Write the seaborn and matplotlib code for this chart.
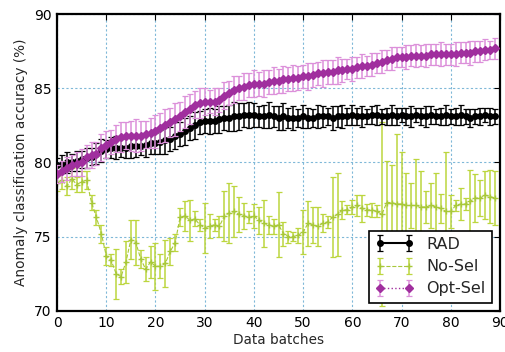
import numpy as np
import pandas as pd
import matplotlib
matplotlib.use("Agg")
import matplotlib.pyplot as plt
import seaborn as sns

batches = list(range(90))

rad_mean = [79.8, 79.9, 80.0, 80.0, 80.1, 80.2, 80.3, 80.4, 80.6, 80.8,
            80.9, 81.0, 81.0, 81.0, 81.0, 81.1, 81.1, 81.1, 81.2, 81.3,
            81.3, 81.4, 81.5, 81.6, 81.8, 81.9, 82.1, 82.3, 82.5, 82.7,
            82.8, 82.8, 82.8, 82.9, 83.0, 83.0, 83.1, 83.1, 83.2, 83.2,
            83.2, 83.1, 83.1, 83.2, 83.1, 83.0, 83.1, 83.0, 83.0, 83.0,
            83.1, 83.0, 83.0, 83.1, 83.1, 83.1, 83.0, 83.1, 83.1, 83.1,
            83.2, 83.1, 83.1, 83.1, 83.2, 83.2, 83.1, 83.1, 83.2, 83.1,
            83.2, 83.1, 83.1, 83.2, 83.1, 83.1, 83.2, 83.1, 83.1, 83.2,
            83.1, 83.1, 83.2, 83.1, 83.0, 83.1, 83.1, 83.2, 83.1, 83.1]
rad_err = [0.5, 0.6, 0.7, 0.6, 0.7, 0.6, 0.7, 0.6, 0.7, 0.8,
           0.6, 0.7, 0.8, 0.6, 0.7, 0.8, 0.7, 0.6, 0.8, 0.7,
           0.7, 0.8, 0.9, 0.8, 0.9, 0.8, 0.9, 0.8, 0.9, 0.8,
           0.8, 0.9, 0.8, 0.9, 0.8, 0.9, 1.0, 0.9, 0.8, 0.9,
           0.8, 0.7, 0.8, 0.9, 0.7, 0.8, 0.9, 0.7, 0.8, 0.6,
           0.8, 0.7, 0.6, 0.8, 0.7, 0.6, 0.8, 0.7, 0.8, 0.6,
           0.7, 0.6, 0.7, 0.5, 0.6, 0.7, 0.5, 0.6, 0.7, 0.6,
           0.5, 0.6, 0.7, 0.5, 0.6, 0.7, 0.6, 0.5, 0.6, 0.7,
           0.5, 0.6, 0.7, 0.5, 0.6, 0.5, 0.6, 0.5, 0.6, 0.5]

nosel_mean = [78.6, 78.8, 78.4, 78.9, 78.5, 78.7, 78.8, 77.3, 76.3, 75.2,
              73.7, 73.4, 72.5, 72.3, 73.3, 74.8, 74.6, 73.5, 72.8, 73.3,
              73.0, 73.0, 73.2, 74.0, 74.6, 76.3, 76.4, 76.1, 76.2, 75.8,
              75.6, 75.7, 75.8, 75.7, 76.4, 76.6, 76.7, 76.5, 76.4, 76.3,
              76.4, 76.1, 75.9, 75.8, 75.7, 75.8, 75.2, 75.0, 75.0, 75.1,
              75.3, 75.9, 75.8, 75.7, 75.9, 76.0, 76.3, 76.5, 76.8, 76.8,
              77.0, 77.1, 76.9, 76.8, 76.8, 76.7, 76.5, 77.3, 77.3, 77.2,
              77.2, 77.1, 77.1, 77.1, 77.0, 77.0, 77.1, 77.0, 76.9, 76.7,
              76.7, 77.1, 77.2, 77.2, 77.4, 77.6, 77.6, 77.8, 77.7, 77.6]
nosel_err = [0.5, 0.6, 0.6, 0.7, 0.5, 0.7, 0.6, 0.5, 0.5, 0.6,
             0.6, 0.4, 1.7, 0.5, 1.4, 1.3, 1.5, 0.6, 0.8, 1.1,
             1.6, 0.8, 1.6, 0.9, 0.6, 0.6, 1.0, 1.4, 0.5, 0.4,
             1.7, 0.8, 0.4, 0.7, 1.7, 2.0, 1.7, 1.2, 0.9, 0.4,
             0.8, 0.9, 1.6, 0.6, 0.5, 2.2, 0.8, 0.4, 0.3, 0.5,
             1.5, 1.5, 1.2, 1.3, 0.6, 0.4, 2.7, 2.8, 0.6, 0.3,
             0.5, 0.7, 0.9, 0.4, 0.5, 0.4, 6.2, 2.8, 2.5, 4.7,
             3.5, 2.2, 1.5, 3.1, 2.4, 1.1, 1.5, 2.3, 1.0, 4.0,
             1.1, 0.4, 1.1, 0.4, 2.1, 1.6, 1.2, 1.6, 1.8, 1.8]

opt_mean = [79.2, 79.4, 79.6, 79.8, 79.9, 80.0, 80.4, 80.5, 80.6, 81.0,
            81.2, 81.4, 81.6, 81.7, 81.8, 81.8, 81.8, 81.8, 81.9, 82.0,
            82.1, 82.3, 82.5, 82.7, 82.9, 83.1, 83.4, 83.6, 83.9, 84.0,
            84.1, 84.1, 84.1, 84.2, 84.5, 84.7, 84.9, 85.0, 85.1, 85.2,
            85.3, 85.3, 85.3, 85.4, 85.5, 85.5, 85.6, 85.6, 85.7, 85.7,
            85.8, 85.8, 85.9, 86.0, 86.0, 86.1, 86.1, 86.2, 86.2, 86.3,
            86.3, 86.4, 86.5, 86.5, 86.6, 86.7, 86.8, 86.9, 87.0, 87.1,
            87.1, 87.1, 87.2, 87.2, 87.2, 87.2, 87.3, 87.3, 87.3, 87.3,
            87.3, 87.3, 87.4, 87.4, 87.4, 87.5, 87.5, 87.6, 87.6, 87.7]
opt_err = [0.6, 0.7, 0.8, 0.7, 0.8, 0.9, 0.8, 0.9, 0.8, 0.9,
           0.9, 0.8, 0.9, 1.0, 0.9, 1.0, 1.1, 1.0, 0.9, 1.0,
           1.1, 1.0, 1.1, 1.0, 1.1, 1.0, 1.1, 1.0, 0.9, 1.0,
           0.9, 0.8, 0.9, 0.8, 0.9, 0.8, 0.9, 0.8, 0.9, 0.8,
           0.9, 0.8, 0.9, 0.8, 0.9, 0.8, 0.9, 0.8, 0.9, 0.8,
           0.8, 0.9, 0.8, 0.8, 0.9, 0.8, 0.8, 0.9, 0.8, 0.7,
           0.8, 0.7, 0.8, 0.7, 0.8, 0.7, 0.8, 0.7, 0.8, 0.7,
           0.7, 0.8, 0.7, 0.8, 0.7, 0.8, 0.7, 0.7, 0.8, 0.7,
           0.7, 0.8, 0.7, 0.7, 0.8, 0.7, 0.7, 0.7, 0.6, 0.7]

series_names = ["RAD", "No-Sel", "Opt-Sel"]
x_ticks = [0, 10, 20, 30, 40, 50, 60, 70, 80, 90]
y_ticks = [70, 75, 80, 85, 90]

sns.set_theme(style="white")
plt.rcParams["font.family"] = ["DejaVu Sans"]

fig, ax = plt.subplots(figsize=(5.05, 3.52), dpi=100)
fig.subplots_adjust(left=0.113, right=0.990, top=0.960, bottom=0.117)

df = pd.DataFrame({"batch": batches,
                   "rad": rad_mean, "rad_e": rad_err,
                   "ns": nosel_mean, "ns_e": nosel_err,
                   "opt": opt_mean, "opt_e": opt_err})

ns_col = "#a8c83a"
ax.errorbar(df["batch"], df["ns"], yerr=df["ns_e"], color=ns_col, ecolor="#bcd63e",
            linestyle="--", marker="+", markersize=4, lw=0.8, elinewidth=1.1,
            capsize=2.5, capthick=0.9, label=series_names[1], zorder=2)
ax.errorbar(df["batch"], df["rad"], yerr=df["rad_e"], color="black", ecolor="black",
            linestyle="-", marker="o", markersize=4, lw=1.5, elinewidth=1.1,
            capsize=2.5, capthick=0.9, label=series_names[0], zorder=3)
ax.errorbar(df["batch"], df["opt"], yerr=df["opt_e"], color="#a02f9e", ecolor="#dc90da",
            linestyle=":", marker="D", markersize=4, lw=1.0, elinewidth=1.1,
            capsize=2.5, capthick=0.9, label=series_names[2], zorder=4,
            mec="#a02f9e")

ax.set_xlim(0, 90)
ax.set_ylim(70, 90)
ax.set_xticks(x_ticks)
ax.set_yticks(y_ticks)
ax.grid(True, color="#7fb8d8", linestyle=(0, (2, 2)), linewidth=0.8)
ax.tick_params(direction="in", top=True, right=True, length=4, width=0.8,
               labelsize=10, colors="black", pad=4)
for s in ax.spines.values():
    s.set_color("black")
    s.set_linewidth(1.6)

ax.set_xlabel("Data batches", fontsize=9.8, labelpad=2)
ax.set_ylabel("Anomaly classification accuracy (%)", fontsize=9.8, labelpad=4)

handles, labels = ax.get_legend_handles_labels()
order = [labels.index(n) for n in series_names]
leg = ax.legend([handles[i] for i in order], [labels[i] for i in order],
                loc="lower right", numpoints=2, fontsize=11.5, fancybox=False,
                framealpha=1, edgecolor="black", borderaxespad=0.5,
                handlelength=2.4, labelspacing=0.45)
leg.get_frame().set_linewidth(1.2)

fig.savefig("out.png", dpi=100)
